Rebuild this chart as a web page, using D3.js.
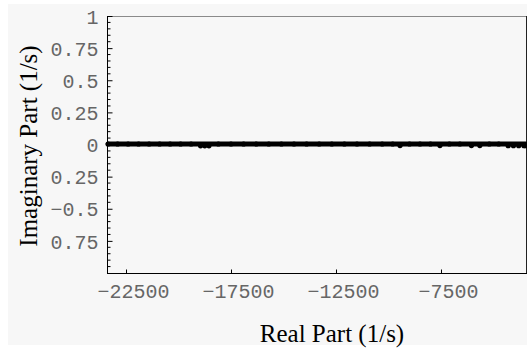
<!DOCTYPE html>
<html>
<head>
<meta charset="utf-8">
<script src="https://cdn.jsdelivr.net/npm/d3@7"></script>
<style>
  html, body { margin: 0; padding: 0; background: #ffffff; }
  svg { display: block; }
</style>
</head>
<body>
<svg id="chart" width="527" height="352"></svg>
<script>
// ---- data ----
const realParts = [
  -23350, -22900, -22400, -21900, -21400, -20900, -20400, -19900, -19400,
  -18950, -18750, -18550,
  -18100, -17500, -16900, -16300, -15700, -15100, -14500, -13900, -13300,
  -12700, -12100, -11500, -10900, -10300, -9800,
  -9450,
  -9000, -8500, -8000,
  -7550,
  -7100, -6600,
  -6050, -5650,
  -5200, -4750,
  -4300, -4050, -3800, -3550, -3470
];
const imagParts = [
  0, 0, 0, 0, 0, 0, 0, 0, 0,
  -0.014, -0.014, -0.014,
  0, 0, 0, 0, 0, 0, 0, 0, 0,
  0, 0, 0, 0, 0, 0,
  -0.012,
  0, 0, 0,
  -0.012,
  0, 0,
  -0.012, -0.012,
  0, 0,
  -0.013, -0.013, -0.013, -0.013, -0.013
];
const xTickValues = [-22500, -17500, -12500, -7500];
const xTickLabels = ["\u221222500", "\u221217500", "\u221212500", "\u22127500"];
const yTickValues = [1, 0.75, 0.5, 0.25, 0, -0.25, -0.5, -0.75];
const yTickLabels = ["1", "0.75", "0.5", "0.25", "0", "0.25", "\u22120.5", "0.75"];
const xTitle = "Real Part (1/s)";
const yTitle = "Imaginary Part (1/s)";

const points = realParts.map((r, i) => ({ re: r, im: imagParts[i] }));

// ---- layout ----
const svg = d3.select("#chart");
const L = 107, R = 526, T = 16, B = 273;

svg.append("rect").attr("x", 8).attr("y", 4).attr("width", 519).attr("height", 341)
  .attr("fill", "#f7f7f7");

const x = d3.scaleLinear().domain([-23405, -3452]).range([L, R]);
const y = d3.scaleLinear().domain([-1, 1]).range([B, T]);

// frame: top and right
svg.append("line").attr("x1", L).attr("x2", 527).attr("y1", T + 0.5).attr("y2", T + 0.5)
  .attr("stroke", "#8a8a8a").attr("stroke-width", 1);
svg.append("line").attr("x1", R + 0.5).attr("x2", R + 0.5).attr("y1", T).attr("y2", B)
  .attr("stroke", "#222").attr("stroke-width", 1);

// data: dense points joined into a thick line
const g = svg.append("g");
g.append("path")
  .datum(points)
  .attr("d", d3.line().x(d => x(d.re)).y(d => y(0) - 0.5))
  .attr("fill", "none").attr("stroke", "#000").attr("stroke-width", 5)
  .attr("stroke-linecap", "round");
g.selectAll("circle").data(points).enter().append("circle")
  .attr("cx", d => x(d.re))
  .attr("cy", d => y(d.im) - 0.5)
  .attr("r", 2.6)
  .attr("fill", "#000");

// left axis
const yMinor = d3.range(-19, 20).map(k => k * 0.05).filter(v => Math.abs(Math.round(v * 4) - v * 4) > 1e-6);
const yAxis = d3.axisRight(y).tickValues(yTickValues).tickFormat((d, i) => yTickLabels[i])
  .tickSize(5).tickPadding(0);
const ya = svg.append("g").attr("transform", `translate(${L + 0.5},0)`).call(yAxis);
ya.select(".domain").attr("d", `M0,${T}V${B + 0.5}`).attr("stroke", "#000");
ya.selectAll(".tick text").attr("x", -9).attr("text-anchor", "end")
  .attr("font-family", "'Liberation Mono', 'Courier New', monospace").attr("font-size", 20)
  .attr("fill", "#666").attr("dy", "0.36em");
ya.selectAll(".tick line").attr("stroke", "#000");
ya.selectAll(".minor").data(yMinor).enter().append("line").attr("class", "minor")
  .attr("x1", 0).attr("x2", 3).attr("y1", d => y(d)).attr("y2", d => y(d))
  .attr("stroke", "#000");

// bottom axis
const xAxis = d3.axisTop(x).tickValues(xTickValues).tickFormat((d, i) => xTickLabels[i])
  .tickSize(4).tickPadding(0);
const xa = svg.append("g").attr("transform", `translate(0,${B + 0.5})`).call(xAxis);
xa.select(".domain").attr("d", `M${L},0H${R + 1}`).attr("stroke", "#000");
xa.selectAll(".tick line").attr("stroke", "#000");
xa.selectAll(".tick text").attr("y", 24).attr("dx", 7).attr("dy", 0)
  .attr("font-family", "'Liberation Mono', 'Courier New', monospace").attr("font-size", 20)
  .attr("fill", "#666");

// titles
svg.append("text").attr("x", 332).attr("y", 342).attr("text-anchor", "middle")
  .attr("font-family", "'Liberation Serif', 'Times New Roman', serif").attr("font-size", 25)
  .attr("fill", "#000").text(xTitle);
svg.append("text").attr("transform", "translate(37,146) rotate(-90)").attr("text-anchor", "middle")
  .attr("font-family", "'Liberation Serif', 'Times New Roman', serif").attr("font-size", 25)
  .attr("fill", "#000").text(yTitle);
</script>
</body>
</html>
